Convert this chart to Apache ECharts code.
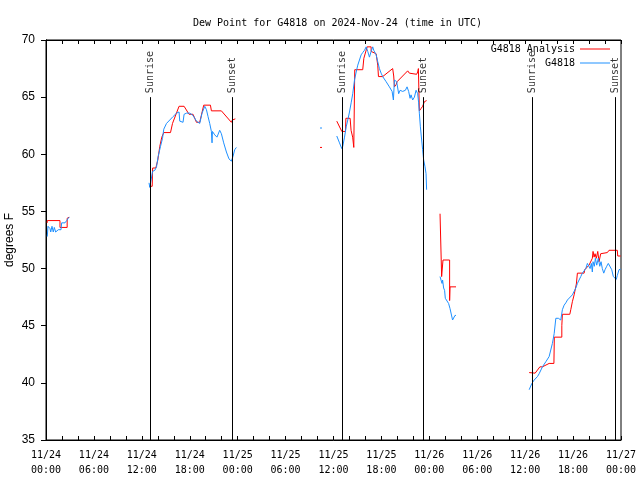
<!DOCTYPE html>
<html><head><meta charset="utf-8">
<script src="https://cdn.jsdelivr.net/npm/echarts@6/dist/echarts.min.js"></script>
<style>html,body{margin:0;padding:0;background:#fff}#c{width:640px;height:480px}</style>
</head><body><div id="c"></div>
<script>
// x = hours since 2024-11-24 00:00 UTC, y = degrees F
const titleText = 'Dew Point for G4818 on 2024-Nov-24 (time in UTC)';
const yTicks = [35, 40, 45, 50, 55, 60, 65, 70];
const dayLabels = ['11/24','11/25','11/26','11/27'];

const sunTimes = [13.07, 23.3, 37.06, 47.29, 60.9, 71.3];
const sunNames = ['Sunrise','Sunset','Sunrise','Sunset','Sunrise','Sunset'];

const anaSeg1 = [[0.15,54.0],[0.16,54.2],[1.75,54.2],[1.75,53.6],[2.65,53.6],[2.65,54.4],[2.9,54.5]];
const anaSeg2 = [[12.91,57.2],[13.3,57.2],[13.35,58.8],[13.75,58.8],[14.0,59.5],[14.25,60.7],[14.5,61.5],[14.75,61.9],[15.59,61.9],[15.84,62.7],[16.66,64.2],[17.29,64.2],[17.91,63.5],[18.41,63.5],[18.84,62.8],[19.25,62.8],[19.75,64.3],[20.59,64.3],[20.71,63.8],[21.96,63.8],[23.21,62.8],[23.34,63.0],[23.71,63.1]];
const anaSeg3 = [[34.31,60.6],[34.56,60.6]];
const anaSeg4 = [[36.41,62.9],[37.04,62.0],[37.5,62.0],[37.55,63.15],[38.08,63.15],[38.2,62.1],[38.4,61.5],[38.54,60.6],[38.66,60.6],[38.66,67.4],[39.66,67.4],[39.8,68.4],[40.21,69.4],[40.71,69.4],[40.71,69.0],[41.34,68.8],[41.54,67.8],[41.63,66.8],[42.16,66.8],[43.41,67.5],[43.54,66.85],[43.63,65.9],[43.84,66.1],[43.96,66.35],[45.29,67.3],[45.5,67.1],[46.41,67.0],[46.54,67.2],[46.63,67.5],[46.75,63.8],[46.96,64.0],[47.16,64.2],[47.38,64.6],[47.66,64.7]];
const anaSeg5 = [[49.34,54.8],[49.54,54.8],[49.54,49.3],[49.71,49.3],[49.71,50.75],[50.54,50.75],[50.54,47.2],[50.59,48.4],[51.34,48.4]];
const anaSeg6 = [[60.5,40.9],[61.25,40.85],[61.41,41.0],[61.84,41.4],[62.16,41.4],[62.38,41.55],[63.0,41.7],[63.6,41.7],[63.65,44.0],[64.59,44.0],[64.59,45.0],[64.66,46.0],[65.59,46.0],[65.71,46.4],[65.91,47.1],[66.13,47.7],[66.41,48.65],[66.54,49.6],[67.38,49.6],[67.46,49.9],[68.0,50.3],[68.41,50.9],[68.5,51.5],[68.63,51.0],[68.75,51.3],[68.91,50.9],[69.09,51.5],[69.25,50.6],[69.46,51.3],[70.29,51.4],[70.5,51.6],[71.54,51.6],[71.59,51.1],[71.96,51.1]];

const obsSeg1 = [[0.16,52.8],[0.25,53.7],[0.5,53.5],[0.59,53.2],[0.75,53.7],[0.91,53.2],[1.04,53.6],[1.21,53.2],[1.54,53.4],[1.75,53.5],[1.88,53.4],[1.96,54.0],[2.38,54.0],[2.59,54.2],[2.79,54.4],[2.91,54.5]];
const obsSeg2 = [[12.9,57.5],[13.0,57.1],[13.34,58.5],[13.63,58.6],[13.84,58.9],[14.04,59.8],[14.34,60.7],[14.59,61.4],[14.75,62.2],[15.09,62.7],[15.5,63.0],[15.91,63.3],[16.34,63.6],[16.66,63.7],[16.75,62.9],[17.16,62.8],[17.29,63.5],[17.59,63.6],[18.0,63.6],[18.41,63.4],[18.84,62.9],[19.25,62.7],[19.54,63.6],[19.88,64.2],[20.09,63.9],[20.29,63.3],[20.5,62.7],[20.71,62.0],[20.79,61.0],[20.84,62.0],[21.13,61.7],[21.41,61.5],[21.75,62.1],[21.96,61.8],[22.25,61.0],[22.59,60.2],[22.91,59.6],[23.21,59.4],[23.41,59.8],[23.63,60.4],[23.84,60.6]];
const obsSeg3 = [[34.31,62.3],[34.56,62.3]];
const obsSeg4 = [[36.41,61.6],[36.75,61.0],[37.04,60.5],[37.16,60.7],[37.38,61.5],[37.59,62.4],[37.79,63.0],[38.0,63.7],[38.21,64.5],[38.41,65.3],[38.63,66.5],[38.84,67.2],[39.04,67.8],[39.25,68.25],[39.46,68.7],[39.66,68.9],[39.88,69.1],[40.09,69.4],[40.29,69.0],[40.5,68.5],[40.71,69.0],[40.91,69.4],[41.04,69.1],[41.34,68.7],[41.54,68.1],[41.75,67.5],[41.96,67.1],[42.16,66.8],[42.59,66.35],[43.0,65.9],[43.34,65.5],[43.5,64.75],[43.63,66.5],[43.91,66.35],[44.04,65.8],[44.16,65.3],[44.34,65.6],[44.66,65.5],[45.0,65.6],[45.21,65.9],[45.41,65.5],[45.59,64.9],[45.71,65.2],[45.91,64.75],[46.13,65.0],[46.34,65.6],[46.54,65.3],[46.66,64.5],[46.75,63.6],[46.88,62.4],[47.04,61.25],[47.16,60.4],[47.29,59.5],[47.46,58.9],[47.59,58.3],[47.66,56.9]];
const obsSeg5 = [[49.34,49.3],[49.46,49.0],[49.59,48.7],[49.66,49.0],[49.79,48.3],[49.91,48.1],[50.0,47.4],[50.16,47.25],[50.41,46.95],[50.59,46.5],[50.71,46.4],[50.79,46.6],[50.91,45.5],[51.13,45.5],[51.21,45.9],[51.34,45.9]];
const obsSeg6 = [[60.5,39.4],[60.75,39.4],[60.84,39.95],[61.13,40.25],[61.54,40.55],[61.75,40.8],[62.16,41.4],[62.59,41.85],[63.0,42.3],[63.41,43.45],[63.63,44.3],[63.84,45.65],[64.16,45.65],[64.46,45.5],[64.66,46.4],[64.88,46.8],[65.09,47.0],[65.29,47.25],[65.5,47.4],[65.91,47.7],[66.13,47.8],[66.34,48.3],[66.54,48.7],[66.75,49.0],[66.96,49.3],[67.16,49.6],[67.38,49.7],[67.59,50.0],[67.79,50.45],[68.0,50.45],[68.13,50.0],[68.29,50.45],[68.41,49.7],[68.5,50.6],[68.66,50.2],[68.79,50.9],[68.96,50.3],[69.16,50.9],[69.34,50.2],[69.5,50.6],[69.66,50.0],[69.84,49.6],[70.0,49.9],[70.21,50.2],[70.41,50.45],[70.59,50.3],[70.84,49.9],[71.04,49.3],[71.25,49.4],[71.41,49.05],[71.54,49.4],[71.75,49.9],[71.96,49.95]];

function joinSegs(segs){
  const out = [];
  segs.forEach((s, i) => {
    if (i > 0) out.push([s[0][0], null]);
    s.forEach(p => out.push(p));
  });
  return out;
}
const anaData = joinSegs([anaSeg1, anaSeg2, anaSeg3, anaSeg4, anaSeg5, anaSeg6]);
const obsData = joinSegs([obsSeg1, obsSeg2, obsSeg3, obsSeg4, obsSeg5, obsSeg6]);

const mono = 'DejaVu Sans Mono';
const sans = 'Liberation Sans';

function xLabel(v){
  const d = Math.floor(v / 24), h = v % 24;
  return dayLabels[d] + '\n' + (h < 10 ? '0' + h : h) + ':00';
}

const chart = echarts.init(document.getElementById('c'), null, {renderer:'canvas'});
chart.setOption({
  animation: false,
  backgroundColor: '#fff',
  title: {text: titleText, left: 188, top: 13, textStyle: {fontFamily: mono, fontSize: 10, fontWeight: 'normal', color: '#000'}},
  legend: {
    data: [{name: 'G4818 Analysis', icon: 'rect'}, {name: 'G4818', icon: 'rect'}],
    orient: 'vertical', right: 30, top: 43, align: 'right', padding: 0,
    itemWidth: 30, itemHeight: 1, itemGap: 2,
    textStyle: {fontFamily: mono, fontSize: 10, color: '#000', lineHeight: 12}
  },
  grid: {left: 46, right: 19, top: 40, bottom: 40, show: true, borderColor: '#000', borderWidth: 1, containLabel: false, outerBoundsMode: 'none'},
  xAxis: [{
    type: 'value', min: 0, max: 72, interval: 6,
    axisLine: {lineStyle: {color: '#000'}},
    axisTick: {inside: true, length: 4, lineStyle: {color: '#000'}},
    minorTick: {show: true, splitNumber: 3, length: 4, lineStyle: {color: '#000'}},
    splitLine: {show: false},
    axisLabel: {formatter: xLabel, fontFamily: mono, fontSize: 10, color: '#000', lineHeight: 15, margin: 8}
  }, {
    type: 'value', min: 0, max: 72, interval: 6, position: 'top',
    axisLine: {lineStyle: {color: '#000'}},
    axisTick: {inside: true, length: 4, lineStyle: {color: '#000'}},
    minorTick: {show: true, splitNumber: 3, length: 4, lineStyle: {color: '#000'}},
    splitLine: {show: false}, axisLabel: {show: false}
  }],
  yAxis: [{
    type: 'value', min: yTicks[0], max: yTicks[yTicks.length - 1], interval: 5,
    name: 'degrees F', nameLocation: 'middle', nameGap: 30, nameMoveOverlap: false,
    nameTextStyle: {fontFamily: sans, fontSize: 12, color: '#000'},
    axisLine: {show: true, lineStyle: {color: '#000'}},
    axisTick: {show: false},
    splitLine: {show: false},
    axisLabel: {fontFamily: sans, fontSize: 12, color: '#000', margin: 11}
  }, {
    type: 'value', min: yTicks[0], max: yTicks[yTicks.length - 1], interval: 5, position: 'right',
    axisLine: {show: true, lineStyle: {color: '#000'}},
    axisTick: {show: true, inside: true, length: 5, lineStyle: {color: '#000'}},
    splitLine: {show: false}, axisLabel: {show: false}
  }],
  series: [{
    name: 'G4818 Analysis', type: 'line', data: anaData, symbol: 'none', connectNulls: false,
    lineStyle: {color: '#ff0000', width: 1}, itemStyle: {color: '#ff0000'}, z: 3
  }, {
    name: 'G4818', type: 'line', data: obsData, symbol: 'none', connectNulls: false,
    lineStyle: {color: '#1e90ff', width: 1}, itemStyle: {color: '#1e90ff'}, z: 4
  }, {
    name: 'sun', type: 'scatter', symbolSize: 0, silent: true, z: 5,
    data: sunTimes.map((t, i) => ({value: [t, 65], name: sunNames[i]})),
    label: {show: true, position: 'top', distance: 4, rotate: 90, align: 'left', verticalAlign: 'middle',
      formatter: p => p.name, fontFamily: mono, fontSize: 10, color: '#000'},
    markLine: {
      silent: true, symbol: 'none', label: {show: false},
      lineStyle: {color: '#000', width: 1, type: 'solid'},
      data: sunTimes.map(t => [{coord: [t, 35]}, {coord: [t, 65]}])
    }
  }]
});
</script></body></html>
